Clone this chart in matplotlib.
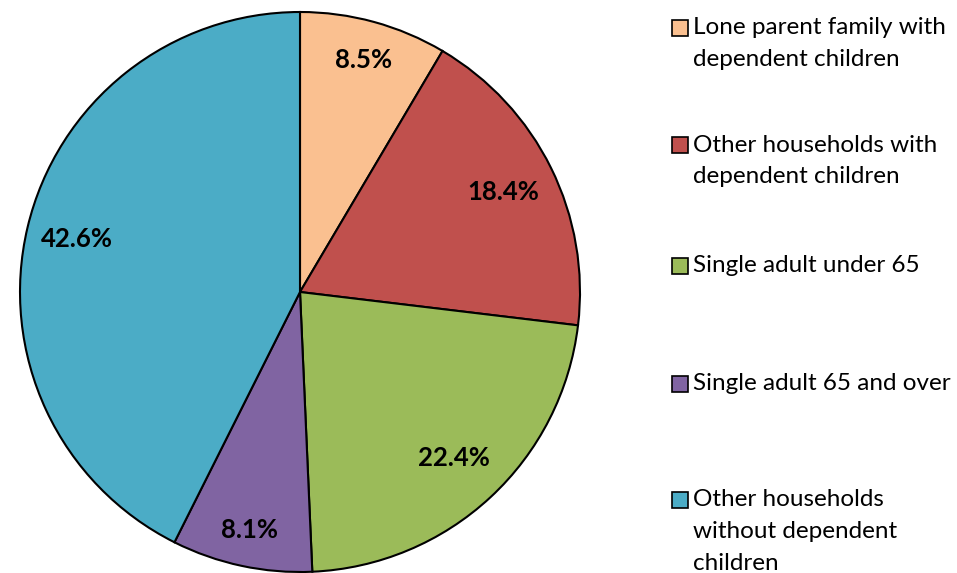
import matplotlib.pyplot as plt
from matplotlib.patches import Rectangle
import numpy as np

plt.rcParams['font.family'] = ['Lato', 'DejaVu Sans']

categories = ['Lone parent family with\ndependent children',
              'Other households with\ndependent children',
              'Single adult under 65',
              'Single adult 65 and over',
              'Other households\nwithout dependent\nchildren']
shares = [8.5, 18.4, 22.4, 8.1, 42.6]
colors = ['#FAC090', '#C0504D', '#9BBB59', '#8064A2', '#4BACC6']

W, H = 957, 573
fig = plt.figure(figsize=(W / 100, H / 100), dpi=100)
fig.patch.set_facecolor('white')

# pie: centre (300, 292) px, radius 280 px
ax = fig.add_axes([20 / W, (H - 572) / H, 560 / W, 560 / H])
wedges, texts = ax.pie(shares, colors=colors, startangle=90, counterclock=False,
                       wedgeprops=dict(edgecolor='black', linewidth=1.5))
ax.set_xlim(-1, 1)
ax.set_ylim(-1, 1)
ax.set_aspect('equal')
ax.axis('off')

dists = [0.86, 0.81, 0.81, 0.87, 0.82]
for w, v, d in zip(wedges, shares, dists):
    ang = np.deg2rad((w.theta1 + w.theta2) / 2)
    ax.text(d * np.cos(ang), d * np.sin(ang), f'{v:.1f}%', ha='center', va='center',
            fontsize=18.5, fontweight='bold', color='black')

# legend, drawn by hand to match Excel spacing
entry_tops = [28, 145, 266, 384, 500]
line_h = 32
for top, lab, c in zip(entry_tops, categories, colors):
    fig.patches.append(Rectangle((672 / W, 1 - (top + 8) / H), 16 / W, 16 / H,
                                 transform=fig.transFigure, facecolor=c,
                                 edgecolor='black', linewidth=1.2))
    for i, line in enumerate(lab.split('\n')):
        fig.text(693 / W, 1 - (top + i * line_h) / H, line, ha='left', va='center',
                 fontsize=17.5, color='black')

plt.savefig('out.png', dpi=100, facecolor='white')
